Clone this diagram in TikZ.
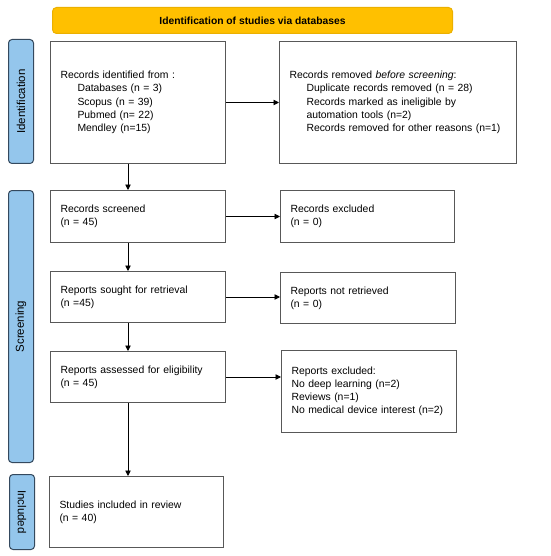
\documentclass[tikz,border=0pt]{standalone}
\usepackage{fontspec}
\setmainfont{Liberation Sans}
\usetikzlibrary{arrows.meta,positioning}
\definecolor{bannerfill}{HTML}{FFC000}
\definecolor{bannerline}{HTML}{EBB000}
\definecolor{phasefill}{HTML}{94C6EC}
\definecolor{phaseline}{HTML}{34495E}
\definecolor{boxline}{HTML}{585858}
\newcommand{\ind}{\hspace*{17pt}}

\begin{document}
\begin{tikzpicture}[x=1pt,y=-1pt,
  box/.style={draw=boxline,line width=1pt,anchor=north west,align=left,inner xsep=10pt,inner ysep=0pt,font=\fontsize{10.4}{13.2}\selectfont},
  phase/.style={draw=phaseline,fill=phasefill,rounded corners=3.5pt,line width=1pt,anchor=north west,minimum width=25pt,inner sep=0pt},
  phaselabel/.style={font=\fontsize{11.5}{13}\selectfont,inner sep=0pt},
  arr/.style={-{Triangle[length=5.5pt,width=5.5pt]},line width=.9pt}]
\useasboundingbox (0,0) rectangle (550,556);

% banner
\node[draw=bannerline,fill=bannerfill,rounded corners=4pt,line width=1pt,anchor=north west,minimum width=400pt,minimum height=26pt,inner sep=0pt,font=\bfseries\fontsize{10.3}{12}\selectfont] (banner) at (52,7) {Identification of studies via databases};

% phase bars
\node[phase,minimum height=124pt] (idbar) at (8,39) {};
\node[phaselabel,rotate=90] at (idbar.center) {Identification};
\node[phase,minimum height=272pt] (scbar) at (8,190) {};
\node[phaselabel,rotate=90] at (scbar.center) {Screening};
\node[phase,minimum height=75pt] (inbar) at (9,474) {};
\node[phaselabel,rotate=-90] at (inbar.center) {Included};

% left column
\node[box,text width=155pt,minimum height=122pt] (ident) at (50,41) {Records identified from :\\
\ind Databases (n = 3)\\
\ind Scopus (n = 39)\\
\ind Pubmed (n= 22)\\
\ind Mendley (n=15)};
\node[box,text width=155pt,minimum height=52pt] (screened) at (50,190) {Records screened\\(n = 45)};
\node[box,text width=155pt,minimum height=51pt] (sought) at (50,271) {Reports sought for retrieval\\(n =45)};
\node[box,text width=155pt,minimum height=51pt] (assessed) at (50,351) {Reports assessed for eligibility\\(n = 45)};
\node[box,text width=154pt,minimum height=71pt] (included) at (49,476) {Studies included in review\\(n = 40)};

% right column
\node[box,text width=217pt,minimum height=122pt] (removed) at (279,41) {Records removed \textit{before screening}:\\
\ind Duplicate records removed (n = 28)\\
\ind Records marked as ineligible by\\
\ind automation tools (n=2)\\
\ind Records removed for other reasons (n=1)};
\node[box,text width=154pt,minimum height=52pt] (excluded) at (280,190) {Records excluded\\(n = 0)};
\node[box,text width=155pt,minimum height=51pt] (notretr) at (280,272) {Reports not retrieved\\(n = 0)};
\node[box,text width=155pt,minimum height=82pt] (repexcl) at (281,350) {Reports excluded:\\
No deep learning (n=2)\\
Reviews (n=1)\\
No medical device interest (n=2)\\[8pt]};

% connectors
\coordinate (col) at (128,0);
\draw[arr] (ident.south -| col) -- (screened.north -| col);
\draw[arr] (screened.south -| col) -- (sought.north -| col);
\draw[arr] (sought.south -| col) -- (assessed.north -| col);
\draw[arr] (assessed.south -| col) -- (included.north -| col);
\draw[arr] (ident.east) -- (ident.east -| removed.west);
\draw[arr] (screened.east) -- (screened.east -| excluded.west);
\draw[arr] (sought.east) -- (sought.east -| notretr.west);
\draw[arr] (assessed.east) -- (assessed.east -| repexcl.west);
\end{tikzpicture}
\end{document}
